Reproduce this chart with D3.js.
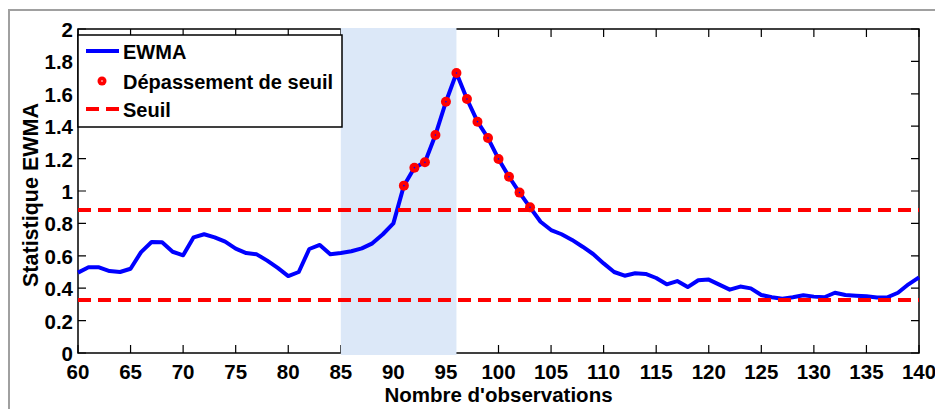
<!DOCTYPE html>
<html>

<head>
  <title>Statistique EWMA</title>
  <script src="https://d3js.org/d3.v7.min.js"></script>
  <style>
    body {
      margin: 0;
      background: #ffffff;
    }

    text {
      font-family: "Liberation Sans", Arial, sans-serif;
      font-weight: bold;
      fill: #000000;
    }
  </style>
</head>

<body>
  <svg id="chart"></svg>
  <script>
    const observations = d3.range(60, 141)
    const ewmaValues = [
      0.496, 0.529, 0.529, 0.506, 0.500, 0.520, 0.623, 0.685, 0.683, 0.625,
      0.603, 0.714, 0.733, 0.714, 0.687, 0.644, 0.617, 0.609, 0.570, 0.525,
      0.475, 0.500, 0.642, 0.667, 0.609, 0.617, 0.628, 0.646, 0.677, 0.733,
      0.800, 1.033, 1.144, 1.177, 1.346, 1.551, 1.728, 1.568, 1.428, 1.327,
      1.198, 1.088, 0.990, 0.899, 0.810, 0.759, 0.733, 0.698, 0.656, 0.611,
      0.553, 0.500, 0.477, 0.492, 0.488, 0.463, 0.424, 0.444, 0.407, 0.449,
      0.453, 0.422, 0.391, 0.410, 0.399, 0.358, 0.344, 0.335, 0.344, 0.356,
      0.348, 0.344, 0.372, 0.358, 0.354, 0.350, 0.342, 0.344, 0.372, 0.424,
      0.467
    ]
    const upperThreshold = 0.883
    const lowerThreshold = 0.327
    const shadedWindow = [85, 96]
    const xTicks = d3.range(60, 141, 5)
    const yTicks = [0, 0.2, 0.4, 0.6, 0.8, 1, 1.2, 1.4, 1.6, 1.8, 2]
    const legendLabels = ["EWMA", "Dépassement de seuil", "Seuil"]

    svgwidth = 935
    svgheight = 409
    var margin = { top: 29, right: 16, bottom: 56, left: 78 }
    width = svgwidth - margin.left - margin.right
    height = svgheight - margin.top - margin.bottom

    svg = d3.select("#chart")
      .attr("width", svgwidth)
      .attr("height", svgheight)

    // grey figure frame
    svg.append("path")
      .attr("d", "M9,409 V10 H935")
      .attr("fill", "none")
      .attr("stroke", "#a0a0a0")
      .attr("stroke-width", 2)

    var x = d3.scaleLinear().domain([60, 140]).range([0, width])
    var y = d3.scaleLinear().domain([0, 2]).range([height, 0])

    g = svg.append("g")
      .attr("transform", `translate(${margin.left},${margin.top})`)

    // axes box with inward ticks
    var tickLen = 8
    g.append("rect")
      .attr("width", width)
      .attr("height", height)
      .attr("fill", "none")
      .attr("stroke", "#000")
      .attr("stroke-width", 1.5)

    g.selectAll(".xtick")
      .data(xTicks)
      .enter()
      .append("path")
      .attr("d", d => `M${x(d)},${height} v${-tickLen} M${x(d)},0 v${tickLen}`)
      .attr("stroke", "#000")
      .attr("stroke-width", 1.2)

    g.selectAll(".ytick")
      .data(yTicks)
      .enter()
      .append("path")
      .attr("d", d => `M0,${y(d)} h${tickLen} M${width},${y(d)} h${-tickLen}`)
      .attr("stroke", "#000")
      .attr("stroke-width", 1.2)

    g.selectAll(".xlabel")
      .data(xTicks)
      .enter()
      .append("text")
      .attr("x", d => x(d))
      .attr("y", height + 26)
      .attr("text-anchor", "middle")
      .style("font-size", "20.5px")
      .text(d => d)

    g.selectAll(".ylabel")
      .data(yTicks)
      .enter()
      .append("text")
      .attr("x", -5)
      .attr("y", d => y(d) + 8)
      .attr("text-anchor", "end")
      .style("font-size", "20.5px")
      .text(d => d)

    g.append("text")
      .attr("x", width / 2)
      .attr("y", height + 49)
      .attr("text-anchor", "middle")
      .style("font-size", "20.5px")
      .text("Nombre d'observations")

    g.append("text")
      .attr("transform", `translate(-40,${height / 2 + 4}) rotate(-90)`)
      .attr("text-anchor", "middle")
      .style("font-size", "21.5px")
      .text("Statistique EWMA")

    // shaded window, drawn over the axis box like in the original
    g.append("rect")
      .attr("x", x(shadedWindow[0]))
      .attr("y", -1)
      .attr("width", x(shadedWindow[1]) - x(shadedWindow[0]))
      .attr("height", height + 3)
      .attr("fill", "#dce8f8")

    data = observations.map((o, i) => ({ obs: o, value: ewmaValues[i] }))

    var line = d3.line()
      .x(d => x(d.obs))
      .y(d => y(d.value))

    g.append("path")
      .datum(data)
      .attr("d", line)
      .attr("fill", "none")
      .attr("stroke", "#0000ff")
      .attr("stroke-width", 4)
      .attr("stroke-linejoin", "round")

    // threshold lines
    g.selectAll(".threshold")
      .data([upperThreshold, lowerThreshold])
      .enter()
      .append("line")
      .attr("x1", 0)
      .attr("x2", width)
      .attr("y1", d => y(d))
      .attr("y2", d => y(d))
      .attr("stroke", "#ff0000")
      .attr("stroke-width", 4)
      .attr("stroke-dasharray", "13,7")

    exceed = data.filter(d => d.obs >= 91 && d.obs <= 103)

    g.selectAll(".exceed")
      .data(exceed)
      .enter()
      .append("circle")
      .attr("cx", d => x(d.obs))
      .attr("cy", d => y(d.value))
      .attr("r", 5)
      .attr("fill", "#ff0000")

    g.selectAll(".exceedDot")
      .data(exceed)
      .enter()
      .append("circle")
      .attr("cx", d => x(d.obs))
      .attr("cy", d => y(d.value))
      .attr("r", 0.8)
      .attr("fill", "#0000ff")

    // legend
    legend = svg.append("g")
      .attr("transform", "translate(78,35)")

    legend.append("rect")
      .attr("width", 264)
      .attr("height", 92)
      .attr("fill", "#ffffff")
      .attr("stroke", "#000")
      .attr("stroke-width", 1.5)

    var rowY = [16, 46, 74]

    legend.append("line")
      .attr("x1", 8).attr("x2", 41)
      .attr("y1", rowY[0]).attr("y2", rowY[0])
      .attr("stroke", "#0000ff")
      .attr("stroke-width", 4)

    legend.append("circle")
      .attr("cx", 24)
      .attr("cy", rowY[1])
      .attr("r", 4.5)
      .attr("fill", "#ff0000")

    legend.append("circle")
      .attr("cx", 24)
      .attr("cy", rowY[1])
      .attr("r", 0.8)
      .attr("fill", "#ffffff")

    legend.append("line")
      .attr("x1", 8).attr("x2", 41)
      .attr("y1", rowY[2]).attr("y2", rowY[2])
      .attr("stroke", "#ff0000")
      .attr("stroke-width", 4)
      .attr("stroke-dasharray", "13,7")

    legend.selectAll(".legendText")
      .data(legendLabels)
      .enter()
      .append("text")
      .attr("x", 45)
      .attr("y", (d, i) => rowY[i] + 8)
      .style("font-size", "20px")
      .text(d => d)
  </script>
</body>

</html>
